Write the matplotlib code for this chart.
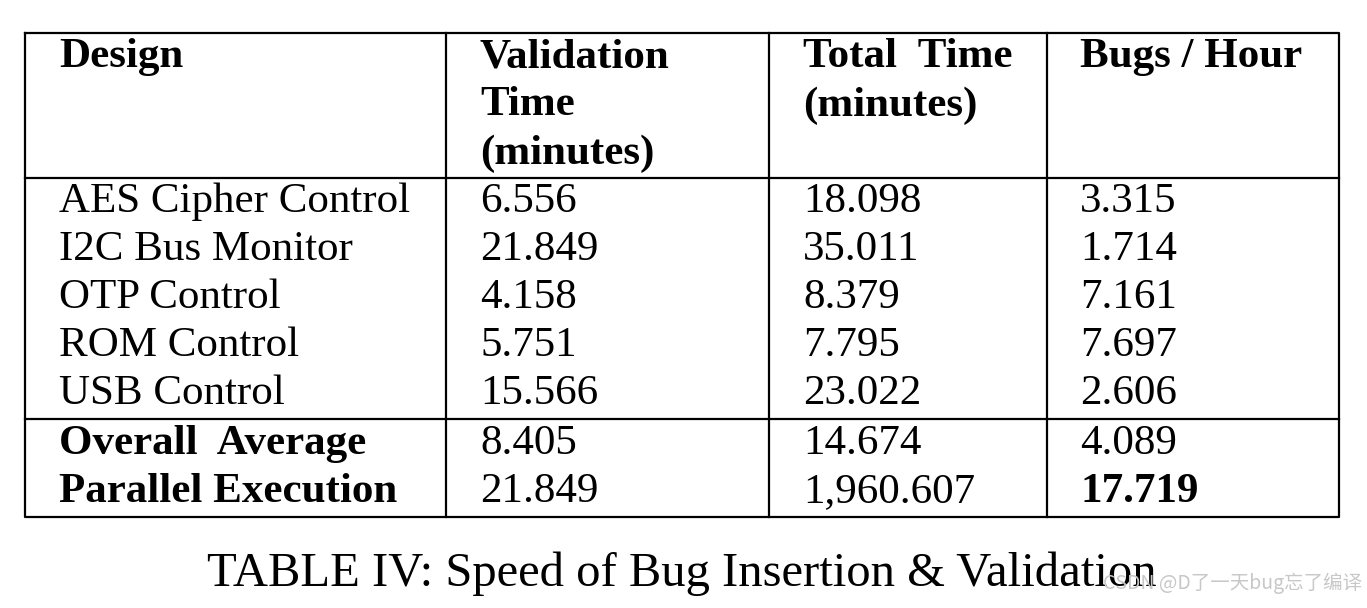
import matplotlib.pyplot as plt

# Table contents
headers = ["Design", "Validation\nTime\n(minutes)", "Total  Time\n(minutes)", "Bugs / Hour"]
designs = ["AES Cipher Control", "I2C Bus Monitor", "OTP Control", "ROM Control", "USB Control",
           "Overall  Average", "Parallel Execution"]
validation_time = ["6.556", "21.849", "4.158", "5.751", "15.566", "8.405", "21.849"]
total_time = ["18.098", "35.011", "8.379", "7.795", "23.022", "14.674", "1,960.607"]
bugs_per_hour = ["3.315", "1.714", "7.161", "7.697", "2.606", "4.089", "17.719"]
caption = "TABLE IV: Speed of Bug Insertion & Validation"

plt.rcParams['font.family'] = ['Liberation Serif', 'Noto Sans CJK SC']

fig = plt.figure(figsize=(13.67, 6.08), dpi=100)
ax = fig.add_axes([0, 0, 1, 1])
ax.set_xlim(0, 1367)
ax.set_ylim(608, 0)
ax.axis('off')

col_x = [59, 480, 803, 1080]  # text left edges
fs = 31

# frame and rules
lw = 1.6
ax.plot([25, 1339, 1339, 25, 25], [33, 33, 517, 517, 33], color='black', lw=lw)
for x in [446, 769, 1047]:
    ax.plot([x, x], [33, 517], color='black', lw=lw)
for y in [178, 419]:
    ax.plot([25, 1339], [y, y], color='black', lw=lw)

# header
for x, h in zip(col_x, headers):
    ax.text(x, 38, h, fontsize=fs, fontweight='bold', va='top', ha='left', linespacing=1.35)

# body rows
for i, row in enumerate(zip(designs, validation_time, total_time, bugs_per_hour)):
    y = 202 + 48 * i + (2 if i >= 5 else 0)
    for j, (x, val) in enumerate(zip(col_x, row)):
        bold = (i >= 5 and j == 0) or (i == 6 and j == 3)
        ax.text(x, y, val, fontsize=fs, fontweight='bold' if bold else 'normal',
                va='center', ha='left')

ax.text(682, 574, caption, fontsize=35, ha='center', va='center')
ax.text(1362, 583, "CSDN @D了一天bug忘了编译", fontsize=14, color='#c8c8c8',
        ha='right', va='center', family=['Noto Sans CJK SC'])

fig.savefig("out.png", dpi=100)
